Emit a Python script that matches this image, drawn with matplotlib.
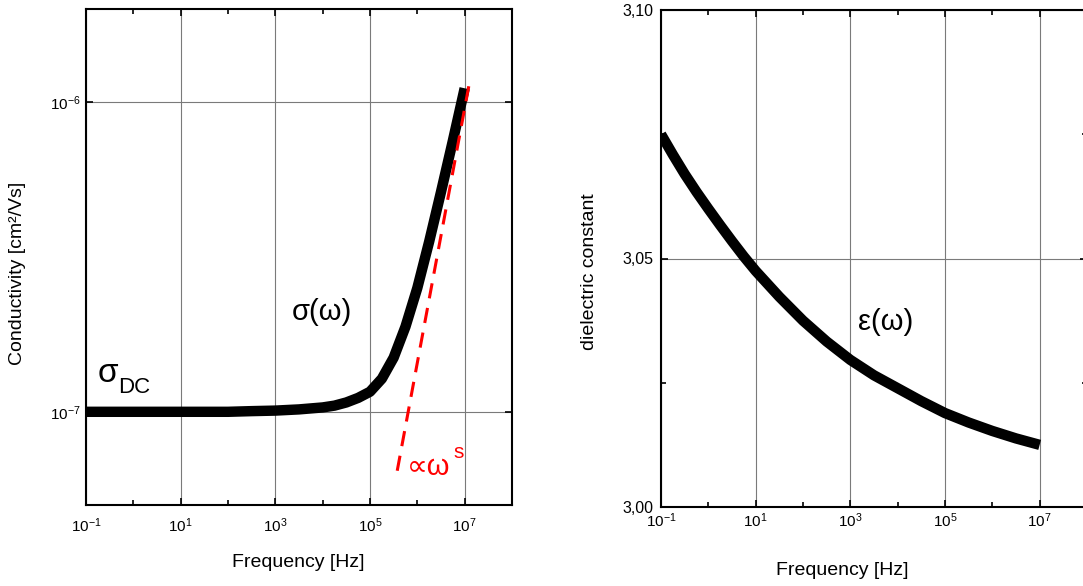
import numpy as np
import matplotlib
matplotlib.use("Agg")
import matplotlib.pyplot as plt
from matplotlib.ticker import (FixedLocator, NullLocator, NullFormatter,
                               FuncFormatter, LogFormatterSciNotation)

plt.rcParams["font.family"] = ["Liberation Sans", "DejaVu Sans"]
plt.rcParams["mathtext.fontset"] = "custom"
plt.rcParams["mathtext.rm"] = "Liberation Sans"
plt.rcParams["mathtext.it"] = "Liberation Sans:italic"
plt.rcParams["mathtext.bf"] = "Liberation Sans:bold"
plt.rcParams["axes.unicode_minus"] = False

# conductivity sigma(omega)
freq_sigma = [1e-1, 1e0, 1e1, 1e2, 3.16e2, 1e3, 3.16e3, 1e4, 1.78e4, 3.16e4,
              5.62e4, 1e5, 1.78e5, 3.16e5, 5.62e5, 1e6, 1.78e6, 3.16e6,
              5.62e6, 1e7]
sigma = [1.0e-7, 1.0e-7, 1.0e-7, 1.0e-7, 1.005e-7, 1.009e-7, 1.018e-7,
         1.033e-7, 1.047e-7, 1.072e-7, 1.109e-7, 1.161e-7, 1.279e-7,
         1.496e-7, 1.884e-7, 2.512e-7, 3.548e-7, 5.129e-7, 7.499e-7, 1.109e-6]

# power-law guide (red dashed)
freq_power = [3.76e5, 1.32e7]
sigma_power = [6.45e-8, 1.20e-6]

# dielectric constant eps(omega)
freq_eps = [1e-1, 1.78e-1, 3.16e-1, 5.62e-1, 1e0, 1.78e0, 3.16e0, 5.62e0, 1e1,
            3.16e1, 1e2, 3.16e2, 1e3, 3.16e3, 1e4, 3.16e4, 1e5, 3.16e5, 1e6,
            3.16e6, 1e7]
eps = [3.0750, 3.0709, 3.0670, 3.0634, 3.0600, 3.0567, 3.0535, 3.0504, 3.0475,
       3.0423, 3.0375, 3.0333, 3.0296, 3.0265, 3.0239, 3.0213, 3.0189, 3.0170,
       3.0153, 3.0138, 3.0125]

x_major = [1e-1, 1e1, 1e3, 1e5, 1e7]
x_minor = [1e0, 1e2, 1e4, 1e6]
eps_major = [3.00, 3.05, 3.10]
eps_minor = [3.025, 3.075]

W, H = 1083, 586
fig = plt.figure(figsize=(W / 100, H / 100), dpi=100)


def px_axes(x0, y0, x1, y1):
    return fig.add_axes([x0 / W, 1 - y1 / H, (x1 - x0) / W, (y1 - y0) / H])


def style_axes(ax, label_pad):
    for s in ax.spines.values():
        s.set_linewidth(1.5)
    ax.set_xscale("log")
    ax.set_xlim(1e-1, 1e8)
    ax.xaxis.set_major_locator(FixedLocator(x_major))
    ax.xaxis.set_minor_locator(FixedLocator(x_minor))
    ax.xaxis.set_major_formatter(LogFormatterSciNotation())
    ax.xaxis.set_minor_formatter(NullFormatter())
    ax.tick_params(which="both", direction="in", top=True, right=True, width=1.2)
    ax.tick_params(which="major", length=5, labelsize=11)
    ax.tick_params(which="minor", length=3.5)
    ax.tick_params(axis="x", which="major", pad=label_pad)
    ax.grid(True, which="major", color="#7a7a7a", linewidth=0.8)
    ax.set_axisbelow(True)


# ---- left panel: conductivity ----
ax1 = px_axes(86, 9, 512, 505)
style_axes(ax1, 8.5)
ax1.set_yscale("log")
ax1.set_ylim(5e-8, 2e-6)
ax1.yaxis.set_major_locator(FixedLocator([1e-7, 1e-6]))
ax1.yaxis.set_minor_locator(NullLocator())
ax1.yaxis.set_major_formatter(LogFormatterSciNotation())
ax1.yaxis.set_minor_formatter(NullFormatter())
ax1.tick_params(axis="y", which="major", pad=4)

ax1.plot(freq_sigma, sigma, color="black", linewidth=7.5, solid_capstyle="butt",
         solid_joinstyle="round", zorder=3)
ax1.plot(freq_power, sigma_power, color="red", linewidth=2.2,
         linestyle=(0, (5, 3.2)), zorder=4)

ax1.set_xlabel("Frequency [Hz]", fontsize=14)
ax1.xaxis.label.set_va("center")
ax1.xaxis.set_label_coords(0.498, -0.115)
ax1.set_ylabel("Conductivity [cm²/Vs]", fontsize=14)
ax1.yaxis.label.set_va("center")
ax1.yaxis.set_label_coords(-0.160, 0.466)

ax1.text(0.028, 0.248, "σ", transform=ax1.transAxes, fontsize=24,
         ha="left", va="baseline")
ax1.text(0.075, 0.226, "DC", transform=ax1.transAxes, fontsize=16,
         ha="left", va="baseline")
ax1.text(0.484, 0.373, "σ(ω)", transform=ax1.transAxes, fontsize=21,
         ha="left", va="baseline")
ax1.text(0.754, 0.060, "∝ω", transform=ax1.transAxes, fontsize=21,
         ha="left", va="baseline", color="red")
ax1.text(0.862, 0.095, "s", transform=ax1.transAxes, fontsize=15,
         ha="left", va="baseline", color="red")

# ---- right panel: dielectric constant (cropped on the right) ----
ax2 = px_axes(661, 10, 1087, 507)
style_axes(ax2, 3.5)
ax2.set_ylim(3.00, 3.10)
ax2.yaxis.set_major_locator(FixedLocator(eps_major))
ax2.yaxis.set_minor_locator(FixedLocator(eps_minor))
ax2.yaxis.set_major_formatter(FuncFormatter(lambda v, p: f"{v:.2f}".replace(".", ",")))
ax2.yaxis.set_minor_formatter(NullFormatter())
ax2.tick_params(axis="y", which="major", pad=5.5, labelsize=11.5)

ax2.plot(freq_eps, eps, color="black", linewidth=7.5, solid_capstyle="butt",
         solid_joinstyle="round", zorder=3)

ax2.set_xlabel("Frequency [Hz]", fontsize=14)
ax2.xaxis.label.set_va("center")
ax2.xaxis.set_label_coords(0.425, -0.127)
ax2.set_ylabel("dielectric constant", fontsize=14)
ax2.yaxis.label.set_va("center")
ax2.yaxis.set_label_coords(-0.167, 0.473)

ax2.text(0.4624, 0.356, "ε(ω)", transform=ax2.transAxes, fontsize=21,
         ha="left", va="baseline")

fig.savefig("out.png", dpi=100)
